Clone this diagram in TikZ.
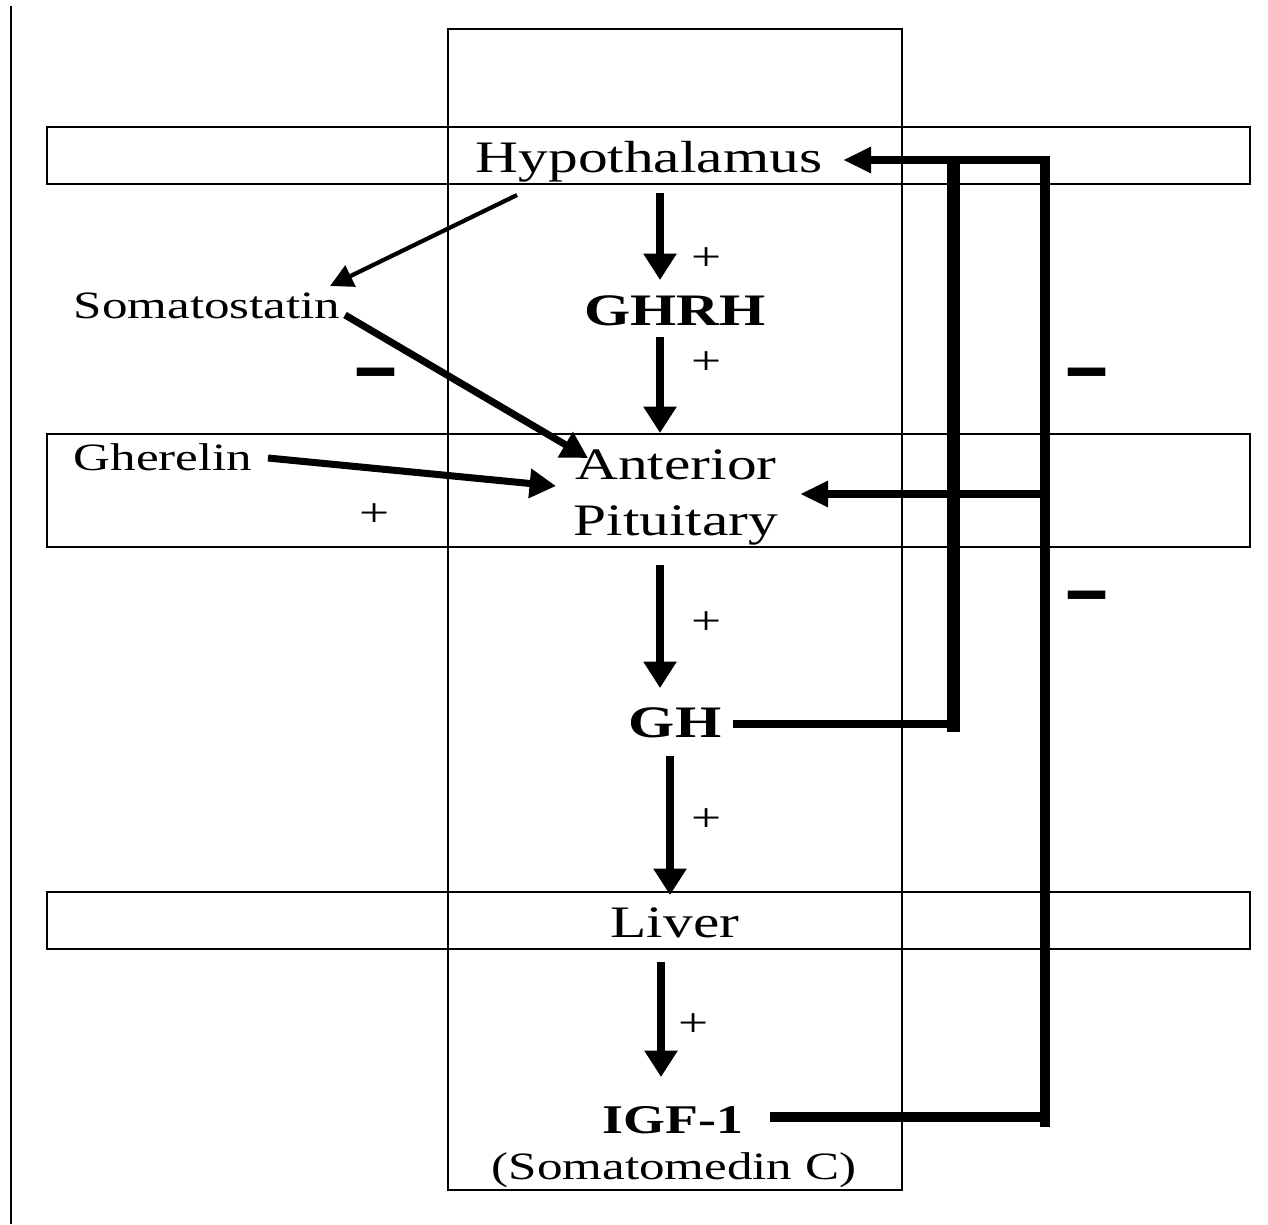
\documentclass[tikz,border=0pt]{standalone}
\usepackage{fontspec}
\setmainfont{Liberation Serif}[FakeStretch=1.32]
\newfontfamily\minusfont{Liberation Sans}[FakeStretch=2.1]
\usetikzlibrary{arrows.meta}

\begin{document}
\begin{tikzpicture}[x=0.01cm, y=-0.01cm,
  frame/.style={draw, line width=0.6pt},
  big/.style={inner sep=0pt, font=\fontsize{12.8}{15.9}\selectfont},
  bigbold/.style={inner sep=0pt, font=\fontsize{12.8}{15.9}\selectfont\bfseries},
  small/.style={inner sep=0pt, font=\fontsize{11}{13.5}\selectfont},
  smallbold/.style={inner sep=0pt, font=\fontsize{11.6}{13.5}\selectfont\bfseries},
  plus/.style={inner sep=0pt, font=\fontsize{11.5}{13}\selectfont},
  minus/.style={inner sep=0pt, anchor=base, font=\minusfont\fontsize{20}{20}\selectfont\bfseries},
  down/.style={line width=2.3pt, -{Triangle[width=9pt,length=7.5pt]}},
  thinarr/.style={line width=1.2pt, -{Triangle[width=6.5pt,length=6.5pt]}},
  midarr/.style={line width=2pt, -{Triangle[width=8pt,length=7.5pt]}},
  sidearr/.style={line width=2.3pt, -{Triangle[width=7pt,length=8pt]}},
]
\useasboundingbox (0,0) rectangle (1268,1224);

% frames and bands
\draw[frame] (11,6) -- (11,1224);
\draw[frame] (448,29) rectangle (902,1190);
\draw[frame] (47,127) rectangle (1250,184);
\draw[frame] (47,434) rectangle (1250,547);
\draw[frame] (47,892) rectangle (1250,949);

% labels
\node[big, anchor=base] (hypo) at (649,172) {Hypothalamus};
\node[bigbold, anchor=base] (ghrh) at (675,325) {GHRH};
\node[big, align=center] (ant) at (676,497) {Anterior\\Pituitary};
\node[bigbold, anchor=base] (gh) at (675,737) {GH};
\node[big, anchor=base] (liver) at (675,937) {Liver};
\node[smallbold, anchor=base] (igf) at (673,1133) {IGF-1};
\node[small, anchor=base] (somc) at (674,1179) {(Somatomedin C)};
\node[small, anchor=base west] (soma) at (73,318) {Somatostatin};
\node[small, anchor=base west] (ghrel) at (73,470) {Gherelin};

% signs
\node[plus] (p1) at (707,259) {+};
\node[plus] (p2) at (707,363) {+};
\node[plus] (p3) at (707,623) {+};
\node[plus] (p4) at (707,820) {+};
\node[plus] (p5) at (694,1025) {+};
\node[plus] (p6) at (375,515) {+};
\node[minus] (m1) at (376,390) {-};
\node[minus] (m2) at (1087,390) {-};
\node[minus] (m3) at (1087,613) {-};

% arrow end points
\coordinate (a1s) at (660,193);  \coordinate (a1e) at (660,280);
\coordinate (a2s) at (660,337);  \coordinate (a2e) at (660,433);
\coordinate (a3s) at (660,565);  \coordinate (a3e) at (660,688);
\coordinate (a4s) at (670,756);  \coordinate (a4e) at (670,895);
\coordinate (a5s) at (661,962);  \coordinate (a5e) at (661,1077);
\coordinate (s1s) at (517,195);  \coordinate (s1e) at (330,286);
\coordinate (s2s) at (345,315);  \coordinate (s2e) at (588,458);
\coordinate (g1s) at (268,458);  \coordinate (g1e) at (556,486);

% main cascade
\draw[down] (a1s) -- (a1e);
\draw[down] (a2s) -- (a2e);
\draw[down] (a3s) -- (a3e);
\draw[down] (a4s) -- (a4e);
\draw[down] (a5s) -- (a5e);

% side inputs
\draw[thinarr] (s1s) -- (s1e);
\draw[midarr] (s2s) -- (s2e);
\draw[midarr] (g1s) -- (g1e);

% feedback loops
\coordinate (ghL) at (733,724);  \coordinate (ghR) at (953,724);
\coordinate (ghB) at (953,732);  \coordinate (ghT) at (953,158);
\coordinate (igL) at (770,1117); \coordinate (igR) at (1045,1117);
\coordinate (igB) at (1045,1127); \coordinate (igT) at (1045,156);
\coordinate (hyS) at (1050,160); \coordinate (hyE) at (843,160);
\coordinate (apS) at (1045,494); \coordinate (apE) at (800,494);

\draw[line width=2.3pt] (ghL) -- (ghR);
\draw[line width=3.7pt] (ghB) -- (ghT);
\draw[line width=2.6pt] (igL) -- (igR);
\draw[line width=2.85pt] (igB) -- (igT);
\draw[sidearr] (hyS) -- (hyE);
\draw[sidearr, line width=2pt] (apS) -- (apE);
\end{tikzpicture}
\end{document}
